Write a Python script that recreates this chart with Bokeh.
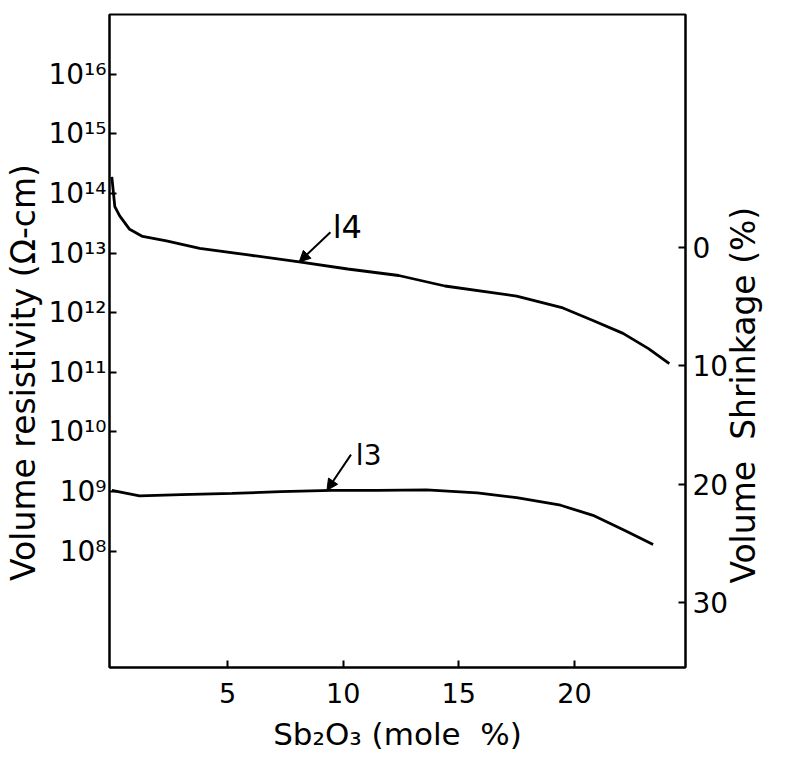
import math
from bokeh.plotting import figure
from bokeh.models import (Range1d, LinearAxis, LinearScale, FixedTicker,
                          CustomJSTickFormatter, Arrow, NormalHead, Label)
from bokeh.embed import file_html
from bokeh.resources import INLINE

# ---- data ----
sb2o3_l4 = [0.0, 0.13, 0.34, 0.77, 1.33, 2.36, 3.8, 5.9, 8.1, 10.2, 12.4,
            14.4, 17.5, 19.5, 20.8, 22.1, 23.2, 24.1]
resist_l4 = [1.9e14, 6.0e13, 4.2e13, 2.5e13, 1.9e13, 1.6e13, 1.2e13, 9.3e12,
             7.1e12, 5.4e12, 4.2e12, 2.8e12, 1.9e12, 1.2e12, 7.4e11, 4.5e11,
             2.5e11, 1.4e11]

sb2o3_l3 = [0.0, 1.2, 3.0, 5.2, 7.3, 9.5, 11.5, 13.6, 15.8, 17.5, 19.4,
            20.8, 22.2, 23.4]
resist_l3 = [1.05e9, 8.5e8, 8.9e8, 9.3e8, 1.0e9, 1.05e9, 1.05e9, 1.07e9,
             9.5e8, 7.9e8, 5.9e8, 4.0e8, 2.2e8, 1.3e8]

x_ticks = [5, 10, 15, 20]
left_ticks = [1e8, 1e9, 1e10, 1e11, 1e12, 1e13, 1e14, 1e15, 1e16]
right_ticks = [0, 10, 20, 30]

curve_names = ["l4", "l3"]
x_title = "Sb\u2082O\u2083 (mole\u00a0\u00a0%)"
left_title = "Volume resistivity (\u03a9-cm)"
right_title = "Volume\u00a0\u00a0Shrinkage (%)"

FONT = "DejaVu Sans"

p = figure(width=785, height=754, x_range=Range1d(-0.1, 24.8),
           y_range=Range1d(10 ** 6.05, 1e17), y_axis_type="log",
           output_backend="svg", toolbar_location=None,
           min_border_left=109, min_border_right=95,
           min_border_top=14, min_border_bottom=84)
p.extra_y_ranges = {"shrink": Range1d(start=35.5, end=-19.7)}
p.extra_y_scales = {"shrink": LinearScale()}

p.xgrid.visible = False
p.ygrid.visible = False
p.outline_line_color = "black"
p.outline_line_width = 2
p.background_fill_color = "white"
p.border_fill_color = "white"

# x axis
xa = p.xaxis[0]
xa.ticker = FixedTicker(ticks=x_ticks, minor_ticks=[])
xa.axis_label = x_title

# left axis
ya = p.yaxis[0]
ya.ticker = FixedTicker(ticks=left_ticks, minor_ticks=[])
ya.formatter = CustomJSTickFormatter(code="""
const sup = {'0':'\u2070','1':'\u00b9','2':'\u00b2','3':'\u00b3','4':'\u2074',
             '5':'\u2075','6':'\u2076','7':'\u2077','8':'\u2078','9':'\u2079','-':'\u207b'};
const e = Math.round(Math.log10(tick));
return '10' + String(e).split('').map(c => sup[c]).join('');
""")
# trailing spaces nudge the centred title slightly downward, as in the original
ya.axis_label = left_title + "\u00a0" * 6

# right axis
ra = LinearAxis(y_range_name="shrink",
                ticker=FixedTicker(ticks=right_ticks, minor_ticks=[]),
                axis_label="\u00a0" * 8 + right_title)
p.add_layout(ra, "right")
if "axis_label_orientation" in ra.properties():
    ra.axis_label_orientation = math.pi / 2
ra.axis_label_align = "end"

for ax in [xa, ya, ra]:
    ax.axis_line_color = "black"
    ax.axis_line_width = 2
    ax.major_tick_in = 7
    ax.major_tick_out = 0
    ax.major_tick_line_width = 2
    ax.minor_tick_line_color = None
    ax.major_label_text_font = FONT
    ax.major_label_text_font_size = "28px"
    ax.major_label_text_color = "black"
    ax.axis_label_text_font = FONT
    ax.axis_label_text_font_size = "33px"
    ax.axis_label_text_font_style = "normal"
    ax.axis_label_text_color = "black"

xa.major_label_text_font_size = "27px"
xa.major_label_standoff = 15
xa.axis_label_standoff = 10
xa.axis_label_text_font_size = "31px"
ya.major_label_standoff = 3
ya.axis_label_standoff = 2
ra.major_label_standoff = 7
ra.axis_label_standoff = 12

# curves
p.line(sb2o3_l4, resist_l4, line_color="black", line_width=2.8)
p.line(sb2o3_l3, resist_l3, line_color="black", line_width=2.8)

# annotations: arrows pointing at curves
tip4 = (sb2o3_l4[8], resist_l4[8])
tip3 = (9.3, resist_l3[5])
p.add_layout(Arrow(end=NormalHead(size=11, line_color="black", fill_color="black"),
                   x_start=9.45, y_start=10 ** 13.35, x_end=tip4[0], y_end=tip4[1],
                   line_color="black", line_width=2))
p.add_layout(Arrow(end=NormalHead(size=11, line_color="black", fill_color="black"),
                   x_start=10.34, y_start=10 ** 9.62, x_end=tip3[0], y_end=tip3[1],
                   line_color="black", line_width=2))
p.add_layout(Label(x=9.55, y=10 ** 13.12, text=curve_names[0], text_font=FONT,
                   text_font_size="32px", text_color="black"))
p.add_layout(Label(x=10.55, y=10 ** 9.33, text=curve_names[1], text_font=FONT,
                   text_font_size="28px", text_color="black"))

open("out.html", "w").write(file_html(p, INLINE))
